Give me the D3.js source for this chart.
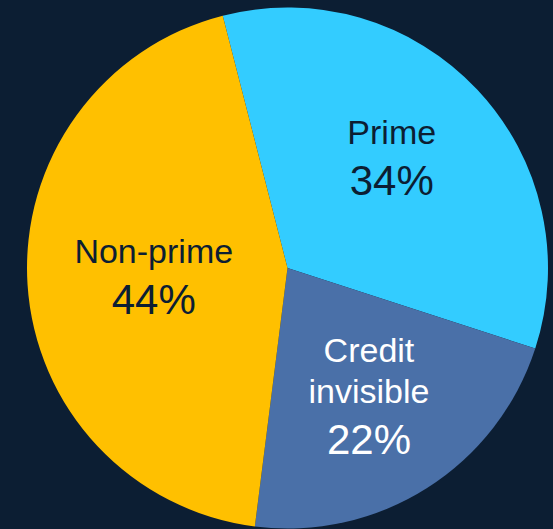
<html>
<head>
<script src="https://d3js.org/d3.v7.min.js"></script>
<style>
    body { margin: 0; background: #0c1e33; }
    text { font-family: "Liberation Sans", Arial, sans-serif; }
</style>
</head>
<body>
<div id="chart"></div>
<script>
var categories = ["Prime", "Credit invisible", "Non-prime"];
var shares = [34, 22, 44];
var labelLines = [["Prime"], ["Credit", "invisible"], ["Non-prime"]];
var colors = ["#33ccff", "#4a70a8", "#ffc000"];
var textColors = ["#0c1e33", "#ffffff", "#0c1e33"];

var width = 553, height = 529;
var cx = 287.5, cy = 268, radius = 260.5;

var svg = d3.select("#chart").append("svg")
    .attr("width", width)
    .attr("height", height);

svg.append("rect")
    .attr("width", width)
    .attr("height", height)
    .attr("fill", "#0c1e33");

var data = categories.map(function(c, i) {
    return { name: c, value: shares[i], lines: labelLines[i], color: colors[i], text: textColors[i] };
});

// first slice starts a bit left of 12 o'clock
var start = -14.4 * Math.PI / 180;
var pie = d3.pie()
    .value(function(d) { return d.value; })
    .sort(null)
    .startAngle(start)
    .endAngle(start + 2 * Math.PI);

var arc = d3.arc().innerRadius(0).outerRadius(radius);

var g = svg.append("g").attr("transform", "translate(" + cx + "," + cy + ")");
var arcs = pie(data);

g.selectAll("path.slice")
    .data(arcs)
    .enter().append("path")
    .attr("class", "slice")
    .attr("d", arc)
    .attr("fill", function(d) { return d.data.color; });

// label placement, tuned a little per slice like the original "best fit"
function labelR(d) { return d.data.name === "Non-prime" ? 134 : 152; }
function labelNudge(d) { return d.data.name === "Prime" ? -3.5 * Math.PI / 180 : 0; }

var labels = g.selectAll("g.label")
    .data(arcs)
    .enter().append("g")
    .attr("class", "label")
    .attr("transform", function(d) {
        var a = (d.startAngle + d.endAngle) / 2 + labelNudge(d), r = labelR(d);
        return "translate(" + (r * Math.sin(a)) + "," + (-r * Math.cos(a)) + ")";
    });

labels.each(function(d) {
    var sel = d3.select(this);
    var n = d.data.lines.length;
    var total = 41 * (n - 1) + 51;
    var y0 = 12 - total / 2;
    d.data.lines.forEach(function(line, i) {
        sel.append("text")
            .attr("y", y0 + i * 41)
            .attr("text-anchor", "middle")
            .attr("font-size", 34)
            .attr("fill", d.data.text)
            .text(line);
    });
    sel.append("text")
        .attr("y", y0 + 41 * (n - 1) + 51)
        .attr("text-anchor", "middle")
        .attr("font-size", 42)
        .attr("fill", d.data.text)
        .text(d.data.value + "%");
});
</script>
</body>
</html>
